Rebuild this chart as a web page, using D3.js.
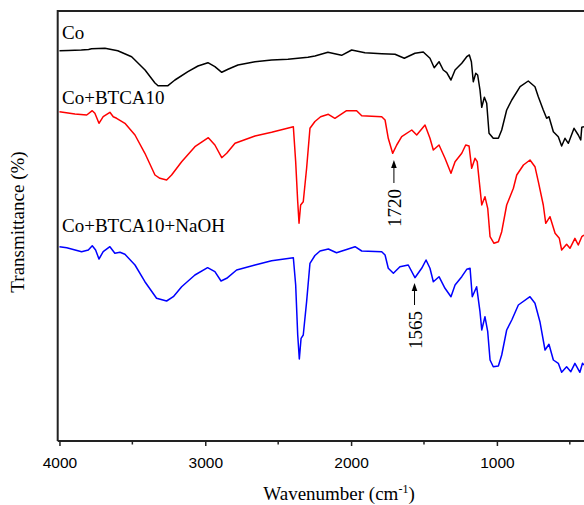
<!DOCTYPE html>
<html>
<head>
<meta charset="utf-8">
<script src="https://cdn.jsdelivr.net/npm/d3@7"></script>
<style>
  body { margin: 0; background: #fff; }
  svg { display: block; }
</style>
</head>
<body>
<div id="chart"></div>
<script>
// wavenumber (cm-1) / transmittance (offset, a.u.)
let coWn = [4000,3940,3850,3800,3780,3688,3600,3505,3413,3345,3324,3256,3208,3119,3050,2982,2934,2887,2844,2776,2659,2545,2433,2296,2248,2159,2065,1996,1905,1790,1699,1635,1562,1505,1459,1430,1397,1368,1344,1315,1287,1241,1207,1189,1175,1162,1145,1132,1116,1104,1086,1070,1054,1025,990,967,933,898,841,785,739,716,682,659,643,613,579,556,533,510,471,442,425,418,403];
let coT = [390.3,390.5,391,391.5,392.3,392.7,390.3,384.3,371,358,355.3,355.3,361,369.3,375,378.3,374.3,368.7,371.7,376,379.3,381,381.7,383.7,385,388.7,385.7,391,388.3,387.3,386.7,382.7,387.7,389,382.7,373.3,379.3,371,368.3,361,371,377.7,384.3,386,379.3,359.3,367.7,366,351,333.7,343.7,337.7,307.7,302.7,302.7,311,331,341,354.3,360,354.3,344.3,331,322.7,324.3,309.3,304.3,295,302.7,297.7,312.7,306,301,313.7,314.3];

let btcaWn = [4000,3894,3813,3775,3757,3729,3700,3654,3631,3608,3551,3482,3414,3345,3311,3265,3231,3162,3071,2979,2934,2887,2853,2796,2659,2545,2396,2380,2366,2357,2346,2328,2305,2282,2248,2209,2156,2111,2031,1962,1927,1790,1767,1745,1715,1687,1653,1584,1550,1493,1459,1436,1397,1356,1315,1287,1241,1214,1191,1173,1150,1135,1116,1104,1082,1063,1047,1020,990,967,933,887,864,818,773,739,716,682,665,636,601,572,556,522,499,465,442,418,403];
let btcaT = [329.3,327,326,330.3,327.7,317.7,324.3,328.7,324.3,322.7,317.7,306,287.7,266,262.7,261,266,279.3,294.3,303.3,296,283.3,287.7,297.7,305,308.7,314.3,279.3,239.3,217.7,236,239.3,272.7,312.7,319.5,324.3,326.7,322.7,330.3,330.3,325.3,324.3,321,302.7,287.7,296,304.3,311,306,316,302.7,291,296,282.7,267.7,279.3,287.7,296,295,272.7,282.7,279.3,252.7,236,244.3,232.7,204.3,197.7,199.3,209.3,236,252.7,266,276,281,274.3,259.3,236,217.7,224.3,207.7,202.7,191,196.7,192.7,202.7,196,204.3,206];

let naohWn = [4000,3950,3848,3802,3775,3752,3729,3700,3654,3620,3585,3551,3482,3414,3334,3265,3219,3162,3071,2984,2934,2892,2853,2785,2659,2545,2396,2380,2366,2355,2343,2328,2305,2282,2248,2213,2156,2100,2020,1973,1927,1790,1767,1745,1710,1665,1608,1562,1516,1486,1459,1436,1397,1356,1315,1287,1241,1207,1184,1169,1139,1116,1104,1082,1063,1047,1025,990,967,933,898,853,773,739,705,670,643,613,579,556,522,493,465,431,413,403];
let naohT = [194.3,193.3,189.3,191,195.3,191,182,189.3,194.3,187.7,188.7,186.7,176,159.3,142.7,140,144.3,154.3,166,173.3,169.3,160,162.7,171,176,180.3,183.3,156,106,82,102.7,106,139.3,177.7,185.5,190,192,188.3,192,194.3,190,189.3,186,172.7,167.7,174.3,176,163.3,172.7,181,172.7,159.3,164.3,152.7,144.3,156,164.3,171.7,172.7,144.3,154.3,129.3,111,124.3,109.3,81,74.3,75,86,111,121,136,144.3,137.7,119.3,91,96.7,81,77.7,68.7,74.3,69.3,77.7,68.7,77.7,76];

let names = ["Co", "Co+BTCA10", "Co+BTCA10+NaOH"];
let colors = ["#000000", "#ff0000", "#0000ff"];
let xTicks = [4000, 3000, 2000, 1000];
let xMinor = [3500, 2500, 1500, 500];

let W = 584, H = 505;
let margin = { left: 57.7, right: 584.4, top: 11, bottom: 441 };

let svg = d3.select("#chart").append("svg")
  .attr("width", W)
  .attr("height", H);

let x = d3.scaleLinear().domain([4012, 400]).range([margin.left, margin.right]);
let y = d3.scaleLinear().domain([0, 430]).range([margin.bottom, margin.top]);

svg.append("clipPath").attr("id", "clip")
  .append("rect").attr("x", margin.left).attr("y", margin.top)
  .attr("width", W - margin.left).attr("height", margin.bottom - margin.top);

let line = d3.line()
  .x(d => x(d[0]))
  .y(d => y(d[1]));

let series = [d3.zip(coWn, coT), d3.zip(btcaWn, btcaT), d3.zip(naohWn, naohT)];

svg.append("g").attr("clip-path", "url(#clip)")
  .selectAll("path").data(series).enter().append("path")
  .attr("d", line)
  .attr("fill", "none")
  .attr("stroke", (d, i) => colors[i])
  .attr("stroke-width", 1.5)
  .attr("stroke-linejoin", "round");

// frame: left, top
svg.append("path")
  .attr("d", "M" + margin.left + "," + margin.bottom + "V" + margin.top + "H" + W)
  .attr("fill", "none").attr("stroke", "#222").attr("stroke-width", 2);

let xAxis = svg.append("g")
  .attr("transform", "translate(0," + margin.bottom + ")")
  .call(d3.axisBottom(x).tickValues(xTicks).tickSize(5).tickFormat(d3.format("d")));
xAxis.select(".domain").attr("d", "M" + margin.left + ",0H" + W).attr("stroke", "#222").attr("stroke-width", 2);
xAxis.selectAll(".tick line").attr("stroke", "#222").attr("stroke-width", 1.5);
xAxis.selectAll(".tick text")
  .attr("y", 15.5)
  .style("font-family", "'Liberation Sans', Arial, sans-serif")
  .style("font-size", "15.5px")
  .attr("fill", "#000");

svg.append("g").selectAll("line").data(xMinor).enter().append("line")
  .attr("x1", d => x(d)).attr("x2", d => x(d))
  .attr("y1", margin.bottom).attr("y2", margin.bottom + 3.5)
  .attr("stroke", "#222").attr("stroke-width", 1.5);

let serif = "'Liberation Serif', 'Times New Roman', serif";

// series labels
let labelY = [39, 104, 232];
svg.selectAll(".lab").data(names).enter().append("text")
  .attr("x", 62)
  .attr("y", (d, i) => labelY[i])
  .text(d => d)
  .style("font-family", serif)
  .style("font-size", "19px");

// axis titles
let xt = svg.append("text")
  .attr("x", 339)
  .attr("y", 500)
  .attr("text-anchor", "middle")
  .style("font-family", serif)
  .style("font-size", "19px");
xt.append("tspan").text("Wavenumber (cm");
xt.append("tspan").text("-1").attr("dy", -7).style("font-size", "12px");
xt.append("tspan").text(")").attr("dy", 7);

svg.append("text")
  .attr("transform", "translate(24,222) rotate(-90)")
  .attr("text-anchor", "middle")
  .style("font-family", serif)
  .style("font-size", "19px")
  .text("Transmittance (%)");

// peak annotations
let peaks = [{ wn: 1720, tip: 160, tail: 183, tx: 208 }, { wn: 1565, tip: 283, tail: 305, tx: 330 }];
peaks.forEach(p => {
  let px = x(p.wn) + (p.wn === 1720 ? 2 : 0);
  svg.append("line")
    .attr("x1", px).attr("x2", px)
    .attr("y1", p.tail).attr("y2", p.tip + 5)
    .attr("stroke", "#000").attr("stroke-width", 1);
  svg.append("path")
    .attr("d", "M" + px + "," + p.tip + "L" + (px - 2.8) + "," + (p.tip + 8) + "L" + (px + 2.8) + "," + (p.tip + 8) + "Z")
    .attr("fill", "#000");
  svg.append("text")
    .attr("transform", "translate(" + (px + 1) + "," + p.tx + ") rotate(-90)")
    .attr("text-anchor", "middle")
    .attr("dominant-baseline", "central")
    .style("font-family", serif)
    .style("font-size", "19px")
    .text(p.wn);
});
</script>
</body>
</html>
